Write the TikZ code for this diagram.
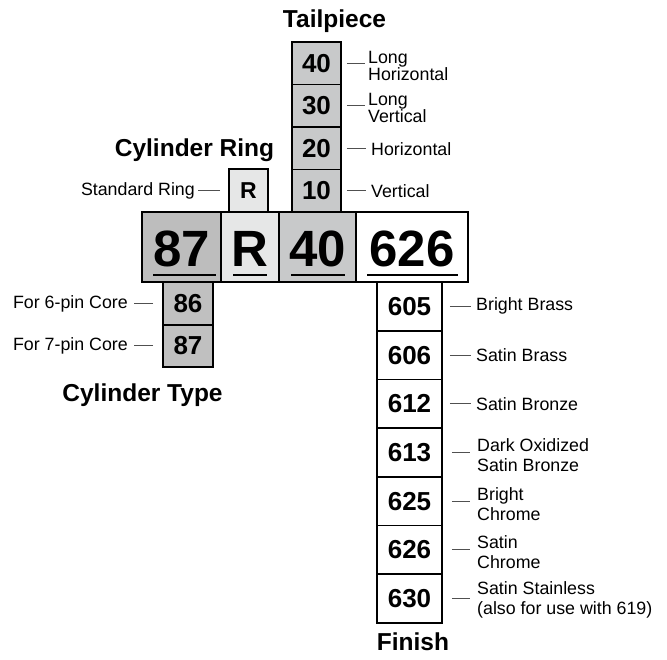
\documentclass[tikz,border=0pt]{standalone}
\usepackage{fontspec}
\setmainfont{Liberation Sans}
\usetikzlibrary{calc}
\definecolor{gA}{RGB}{189,189,189}
\definecolor{gB}{RGB}{200,201,202}
\definecolor{gC}{RGB}{230,231,231}
\definecolor{gD}{RGB}{192,192,192}
\definecolor{leadc}{RGB}{80,80,80}
\begin{document}
\begin{tikzpicture}[x=1pt,y=-1pt,
  cell/.style={draw=black, line width=1.8pt, inner sep=0pt,
    font=\fontsize{26}{26}\selectfont\bfseries},
  bigcell/.style={cell, line width=2.2pt, minimum height=70pt, text height=40pt,
    font=\fontsize{51}{51}\selectfont\bfseries},
  tailbox/.style={cell, fill=gB, minimum width=49pt, minimum height=42.5pt},
  cylbox/.style={cell, fill=gD, minimum width=50pt, minimum height=42.5pt},
  finbox/.style={cell, fill=white, minimum width=65pt, minimum height=48.7pt},
  lbl/.style={inner sep=0pt, font=\fontsize{17.8}{16.5}\selectfont, align=left},
  flbl/.style={inner sep=0pt, font=\fontsize{17.8}{19.5}\selectfont, align=left, anchor=west},
  head/.style={inner sep=0pt, font=\fontsize{24.5}{24.5}\selectfont\bfseries, anchor=base},
  leader/.style={draw=leadc, line width=1pt},
  uline/.style={line width=2pt}]
\useasboundingbox (0,0) rectangle (667,660);

% main row
\node[bigcell, fill=gA, minimum width=79pt]  (m87)  at (181.5,247) {87};
\node[bigcell, fill=gC, minimum width=58pt]  (mR)   at (250,247)   {R};
\node[bigcell, fill=gB, minimum width=77pt]  (m40)  at (317.5,247) {40};
\node[bigcell, fill=white, minimum width=112pt] (m626) at (412,247) {626};
\draw[uline] (153,275) -- (216,275);
\draw[uline] (233,275) -- (267,275);
\draw[uline] (291,275) -- (345,275);
\draw[uline] (367,275) -- (458,275);

% tailpiece
\node[head] (htail) at (334.5,28) {Tailpiece};
\node[tailbox] (t40) at (316.5,63.25)  {40};
\node[tailbox] (t30) at (316.5,105.75) {30};
\node[tailbox] (t20) at (316.5,148.25) {20};
\node[tailbox] (t10) at (316.5,190.75) {10};
\node[lbl, anchor=west] (lt40) at (368,66)  {Long\\Horizontal};
\node[lbl, anchor=west] (lt30) at (368,108) {Long\\Vertical};
\node[lbl, anchor=west] (lt20) at (371,149) {Horizontal};
\node[lbl, anchor=west] (lt10) at (371,191) {Vertical};
\draw[leader, shorten <=5pt, shorten >=3pt] (t40.east) -- (t40.east -| lt40.west);
\draw[leader, shorten <=5pt, shorten >=3pt] (t30.east) -- (t30.east -| lt30.west);
\draw[leader, shorten <=5pt, shorten >=5pt] (t20.east) -- (t20.east -| lt20.west);
\draw[leader, shorten <=5pt, shorten >=5pt] (t10.east) -- (t10.east -| lt10.west);

% cylinder ring
\node[head] (hring) at (194.5,157) {Cylinder Ring};
\node[cell, fill=gC, minimum width=39pt, minimum height=43pt,
  font=\fontsize{23}{23}\selectfont\bfseries] (rR) at (248.5,190.5) {R};
\node[lbl, anchor=east] (lR) at (195,190.5) {Standard Ring};
\draw[leader, shorten <=8pt, shorten >=3pt] (rR.west) -- (rR.west -| lR.east);

% cylinder type
\node[cylbox] (c86) at (188,303.5) {86};
\node[cylbox] (c87) at (188,346) {87};
\node[lbl, anchor=east] (l86) at (128,303.5) {For 6-pin Core};
\node[lbl, anchor=east] (l87) at (128,346)   {For 7-pin Core};
\draw[leader, shorten <=9pt, shorten >=6pt] (c86.west) -- (c86.west -| l86.east);
\draw[leader, shorten <=9pt, shorten >=6pt] (c87.west) -- (c87.west -| l87.east);
\node[head] (hcyl) at (142.5,402) {Cylinder Type};

% finish
\node[finbox] (f605) at (409.5,306.36) {605};
\node[finbox] (f606) at (409.5,355.07) {606};
\node[finbox] (f612) at (409.5,403.79) {612};
\node[finbox] (f613) at (409.5,452.5)  {613};
\node[finbox] (f625) at (409.5,501.21) {625};
\node[finbox] (f626) at (409.5,549.93) {626};
\node[finbox] (f630) at (409.5,598.64) {630};
\node[flbl] (l605) at (476,306.36) {Bright Brass};
\node[flbl] (l606) at (476,355.07) {Satin Brass};
\node[flbl] (l612) at (476,403.79) {Satin Bronze};
\node[flbl] (l613) at (477,455)    {Dark Oxidized\\Satin Bronze};
\node[flbl] (l625) at (477,504)    {Bright\\Chrome};
\node[flbl] (l626) at (477,552)    {Satin\\Chrome};
\node[flbl] (l630) at (477,600)    {Satin Stainless\\(also for use with 619)};
\foreach \b/\l in {f605/l605,f606/l606,f612/l612}
  \draw[leader, shorten <=7pt, shorten >=5pt] (\b.east) -- (\b.east -| \l.west);
\foreach \b/\l in {f613/l613,f625/l625,f626/l626,f630/l630}
  \draw[leader, shorten <=9pt, shorten >=7pt] (\b.east) -- (\b.east -| \l.west);
\node[head] (hfin) at (413,650) {Finish};
\end{tikzpicture}
\end{document}
